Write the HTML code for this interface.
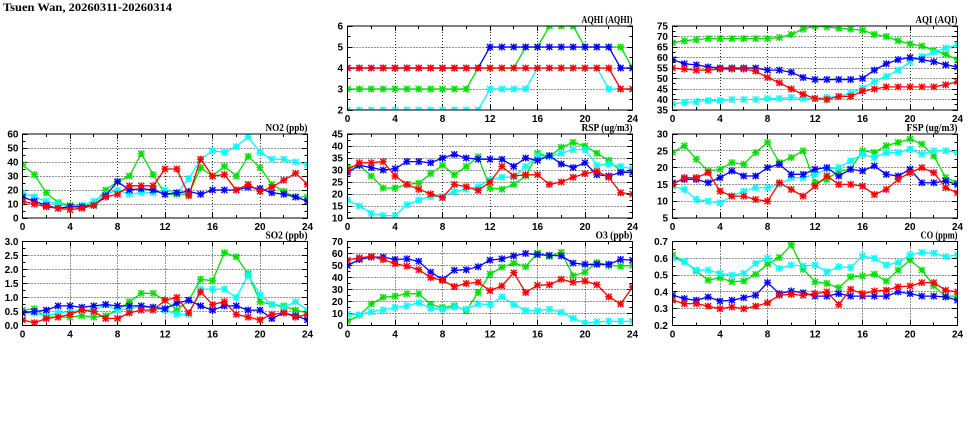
<!DOCTYPE html>
<html><head><meta charset="utf-8"><style>
html,body{margin:0;padding:0;background:#fff;}
svg{display:block;}
.t{font-family:"Liberation Sans",sans-serif;font-weight:bold;font-size:10px;fill:#000;}
.l{font-family:"Liberation Serif",serif;font-weight:bold;font-size:10px;fill:#000;}
.ttl{font-family:"Liberation Serif",serif;font-weight:bold;font-size:12px;fill:#000;}
</style></head><body>
<svg id="c" xmlns="http://www.w3.org/2000/svg" width="975" height="447" viewBox="0 0 975 447">
<rect width="975" height="447" fill="#fff"/>
<defs id="df"></defs>
<text class="ttl" x="3" y="11" textLength="169" lengthAdjust="spacingAndGlyphs">Tsuen Wan, 20260311-20260314</text>

<!-- plot labels -->
<text class="l" x="632.5" y="23" text-anchor="end" textLength="51" lengthAdjust="spacingAndGlyphs">AQHI (AQHI)</text>
<text class="l" x="957.5" y="23" text-anchor="end" textLength="42" lengthAdjust="spacingAndGlyphs">AQI (AQI)</text>
<text class="l" x="307.5" y="131" text-anchor="end" textLength="42" lengthAdjust="spacingAndGlyphs">NO2 (ppb)</text>
<text class="l" x="632.5" y="131" text-anchor="end" textLength="51" lengthAdjust="spacingAndGlyphs">RSP (ug/m3)</text>
<text class="l" x="957.5" y="131" text-anchor="end" textLength="51" lengthAdjust="spacingAndGlyphs">FSP (ug/m3)</text>
<text class="l" x="307.5" y="238.5" text-anchor="end" textLength="42" lengthAdjust="spacingAndGlyphs">SO2 (ppb)</text>
<text class="l" x="632.5" y="238.5" text-anchor="end" textLength="37" lengthAdjust="spacingAndGlyphs">O3 (ppb)</text>
<text class="l" x="957.5" y="238.5" text-anchor="end" textLength="37" lengthAdjust="spacingAndGlyphs">CO (ppm)</text>

<g class="t" text-anchor="end">
<text x="343" y="29.5">6</text><text x="343" y="50.5">5</text><text x="343" y="71.5">4</text><text x="343" y="92.5">3</text><text x="343" y="113.5">2</text>
</g>
<g class="t" text-anchor="end">
<text x="668" y="29.5">75</text><text x="668" y="40">70</text><text x="668" y="50.5">65</text><text x="668" y="61">60</text><text x="668" y="71.5">55</text><text x="668" y="82">50</text><text x="668" y="92.5">45</text><text x="668" y="103">40</text><text x="668" y="113.5">35</text>
</g>
<g class="t" text-anchor="end">
<text x="18.5" y="137.5">60</text><text x="18.5" y="151.5">50</text><text x="18.5" y="165.5">40</text><text x="18.5" y="179.5">30</text><text x="18.5" y="193.5">20</text><text x="18.5" y="207.5">10</text><text x="18.5" y="221.5">0</text>
</g>
<g class="t" text-anchor="end">
<text x="343" y="137.5">45</text><text x="343" y="149.5">40</text><text x="343" y="161.5">35</text><text x="343" y="173.5">30</text><text x="343" y="185.5">25</text><text x="343" y="197.5">20</text><text x="343" y="209.5">15</text><text x="343" y="221.5">10</text>
</g>
<g class="t" text-anchor="end">
<text x="668" y="137.5">30</text><text x="668" y="154.3">25</text><text x="668" y="171.1">20</text><text x="668" y="187.9">15</text><text x="668" y="204.7">10</text><text x="668" y="221.5">5</text>
</g>
<g class="t" text-anchor="end">
<text x="18.5" y="245">3.0</text><text x="18.5" y="259">2.5</text><text x="18.5" y="273">2.0</text><text x="18.5" y="287">1.5</text><text x="18.5" y="301">1.0</text><text x="18.5" y="315">0.5</text><text x="18.5" y="329">0.0</text>
</g>
<g class="t" text-anchor="end">
<text x="343" y="245">70</text><text x="343" y="257">60</text><text x="343" y="269">50</text><text x="343" y="281">40</text><text x="343" y="293">30</text><text x="343" y="305">20</text><text x="343" y="317">10</text><text x="343" y="329">0</text>
</g>
<g class="t" text-anchor="end">
<text x="668" y="245">0.7</text><text x="668" y="261.8">0.6</text><text x="668" y="278.6">0.5</text><text x="668" y="295.4">0.4</text><text x="668" y="312.2">0.3</text><text x="668" y="329">0.2</text>
</g>

<g class="t" text-anchor="middle">
<text x="347.5" y="122">0</text><text x="395" y="122">4</text><text x="442.5" y="122">8</text><text x="490" y="122">12</text><text x="537.5" y="122">16</text><text x="585" y="122">20</text><text x="632.5" y="122">24</text>
<text x="672.5" y="122">0</text><text x="720" y="122">4</text><text x="767.5" y="122">8</text><text x="815" y="122">12</text><text x="862.5" y="122">16</text><text x="910" y="122">20</text><text x="957.5" y="122">24</text>
</g>
<g class="t" text-anchor="middle">
<text x="22.5" y="230">0</text><text x="70" y="230">4</text><text x="117.5" y="230">8</text><text x="165" y="230">12</text><text x="212.5" y="230">16</text><text x="260" y="230">20</text><text x="307.5" y="230">24</text>
<text x="347.5" y="230">0</text><text x="395" y="230">4</text><text x="442.5" y="230">8</text><text x="490" y="230">12</text><text x="537.5" y="230">16</text><text x="585" y="230">20</text><text x="632.5" y="230">24</text>
<text x="672.5" y="230">0</text><text x="720" y="230">4</text><text x="767.5" y="230">8</text><text x="815" y="230">12</text><text x="862.5" y="230">16</text><text x="910" y="230">20</text><text x="957.5" y="230">24</text>
</g>
<g class="t" text-anchor="middle">
<text x="22.5" y="337.5">0</text><text x="70" y="337.5">4</text><text x="117.5" y="337.5">8</text><text x="165" y="337.5">12</text><text x="212.5" y="337.5">16</text><text x="260" y="337.5">20</text><text x="307.5" y="337.5">24</text>
<text x="347.5" y="337.5">0</text><text x="395" y="337.5">4</text><text x="442.5" y="337.5">8</text><text x="490" y="337.5">12</text><text x="537.5" y="337.5">16</text><text x="585" y="337.5">20</text><text x="632.5" y="337.5">24</text>
<text x="672.5" y="337.5">0</text><text x="720" y="337.5">4</text><text x="767.5" y="337.5">8</text><text x="815" y="337.5">12</text><text x="862.5" y="337.5">16</text><text x="910" y="337.5">20</text><text x="957.5" y="337.5">24</text>
</g>
<g id="plots"></g>
</svg>
<script>
(function(){
var NS="http://www.w3.org/2000/svg";
var root=document.getElementById('plots');
var defs=document.getElementById('df');
function el(n,a){var e=document.createElementNS(NS,n);for(var k in a)e.setAttribute(k,a[k]);return e;}
var W=285,H=84;
var cols=['#00e000','#00ffff','#0000ff','#ff0000'];
var P=[
{x:347.5,y:26,lo:2,hi:6,st:1,d:[
[3,3,3,3,3,3,3,3,3,3,3,4,4,4,4,5,5,6,6,6,5,5,5,5,4],
[2,2,2,2,2,2,2,2,2,2,2,2,3,3,3,3,4,4,4,4,4,4,3,3,3],
[4,4,4,4,4,4,4,4,4,4,4,4,5,5,5,5,5,5,5,5,5,5,5,4,4],
[4,4,4,4,4,4,4,4,4,4,4,4,4,4,4,4,4,4,4,4,4,4,4,3,3]]},
{x:672.5,y:26,lo:35,hi:75,st:5,d:[
[67,68,68.5,69,69,69,69,69,69,69.5,71,73.5,75,74.5,74,73.5,73,71,70,68,66.5,65.5,63.5,61.5,59],
[38,38.5,39,39.5,39.5,40,40,40,40.5,40.5,41,40.5,40.5,41,41.5,43,45.5,48.5,51,54,58,60.5,62.5,64.5,66],
[59,57,56.5,55.5,55,55,55,55,54,54,53,50.5,49.5,49.5,49.5,49.5,50,54,57,59,60,59,58,56.5,55.5],
[55,54.5,54,54,54.5,54.5,54.5,53.5,50.5,48,45,42.5,40.5,40,41.5,41.5,44,45,46,46,46,46,46,47,48.5]]},
{x:22.5,y:134,lo:0,hi:60,st:10,d:[
[38,31,18,11,9,9,10,20,26,30,46,31,17,17,17,36,30,37,30,44,36,24,19,15,15],
[18,15,12,10,8,9,12,17,20,17,18,18,20,18,28,42,48,47,51,58,47,42,42,40,38],
[15,12,9,7,8,8,9,16,26,20,21,20,17,18,19,17,20,20,20,22,21,18,17,15,12],
[12,10,8,7,6,7,9,15,17,23,23,23,35,35,16,42,30,31,20,24,19,22,27,32,24]]},
{x:347.5,y:134,lo:10,hi:45,st:5,d:[
[31,32,27.5,22.5,22.5,24,24.5,28.5,32,28,31.5,35.5,22.5,22,24,27.5,37,35.5,39.5,41.5,40,37,34,29.5,29],
[17.5,15,12,11,11,15.5,17.5,19,19,21,22,23,26,27,27,31.5,36,35.5,37,38.5,38.5,32,32.5,31.5,30.5],
[29,32,31,30,30.5,33.5,33.5,33,35,36.5,35,34.5,34.5,34.5,31.5,35,34,36,32.5,31,33,28,27.5,29,29],
[30,33,33,33.5,27.5,24,22,20,18.5,24,23,21.5,25,31.5,27.5,28,28,24,25,27,28.5,29.5,27,20.5,20]]},
{x:672.5,y:134,lo:5,hi:30,st:5,d:[
[24.5,26.5,22.5,19,19.5,21.5,21,24.5,27.5,21.5,23,25,15.5,16.5,19,19.5,25,24.5,26.5,27.5,28.5,27,23.5,17,15.5],
[14.5,13.5,10.5,10,9.5,11.5,13,14,14,15,17,17,18,19.5,20,22,24,23,24.5,24.5,25.5,24,25,25,24.5],
[15.5,16.5,16.5,15.5,17,19,17.5,17.5,20,21,18,18,19.5,20,17.5,19.5,19,20.5,18,17.5,19.5,15.5,15.5,16,15],
[15,17,17,18.5,13,11.5,11.5,10.5,10,15.5,13.5,11.5,14.5,17.5,15,15,14.5,12,13.5,16.5,18.5,20,18.5,14,12.5]]},
{x:22.5,y:241.5,lo:0,hi:3,st:0.5,d:[
[0.55,0.6,0.3,0.3,0.3,0.35,0.3,0.35,0.55,0.85,1.15,1.15,0.9,0.55,0.9,1.65,1.6,2.6,2.45,1.85,0.85,0.75,0.7,0.55,0.45],
[0.45,0.45,0.35,0.45,0.5,0.55,0.55,0.75,0.55,0.6,0.7,0.6,0.55,0.4,0.4,1.3,1.3,1.3,1.0,1.8,1.1,0.75,0.65,0.85,0.55],
[0.45,0.5,0.55,0.7,0.7,0.65,0.7,0.75,0.7,0.7,0.7,0.65,0.6,0.8,0.9,0.7,0.55,0.7,0.7,0.55,0.55,0.25,0.45,0.35,0.2],
[0.2,0.1,0.25,0.3,0.4,0.55,0.5,0.25,0.25,0.45,0.55,0.55,0.9,1.0,0.45,1.2,0.75,0.85,0.4,0.3,0.2,0.4,0.45,0.3,0.4]]},
{x:347.5,y:241.5,lo:0,hi:70,st:10,d:[
[3.5,8.5,18,23.5,24.5,26.5,26.5,17.5,15,16.5,12.5,27.5,43,48.5,52,49,60.5,57.5,61,41.5,44.5,52.5,50,49.5,50],
[9.5,9,11.5,13,15,16.5,19,14.5,13.5,15.5,13.5,18,17.5,24,17.5,12.5,12.5,13.5,11,6,2,3,3.5,3.5,3.5],
[50,55,57,57,55,55.5,53.5,44.5,38.5,46,46.5,49,54.5,55.5,58,60,59,58.5,58,52,51,51,51,55,54.5],
[54.5,56.5,57.5,55,51.5,49.5,46.5,40,37.5,32.5,35,36,29,33,44,27.5,33.5,34,38.5,36,37,34,24,18,32]]},
{x:672.5,y:241.5,lo:0.2,hi:0.7,st:0.1,d:[
[0.62,0.58,0.525,0.47,0.485,0.46,0.465,0.505,0.565,0.605,0.68,0.535,0.46,0.45,0.425,0.49,0.495,0.505,0.465,0.53,0.59,0.53,0.435,0.375,0.375],
[0.6,0.58,0.53,0.53,0.51,0.5,0.51,0.57,0.6,0.54,0.56,0.555,0.56,0.52,0.55,0.545,0.615,0.6,0.56,0.575,0.62,0.635,0.63,0.61,0.62],
[0.38,0.36,0.35,0.37,0.345,0.35,0.365,0.38,0.455,0.39,0.405,0.395,0.375,0.375,0.39,0.375,0.375,0.375,0.375,0.4,0.39,0.375,0.375,0.37,0.35],
[0.35,0.33,0.33,0.315,0.3,0.31,0.3,0.315,0.335,0.38,0.385,0.38,0.39,0.4,0.325,0.415,0.39,0.405,0.41,0.43,0.435,0.455,0.455,0.41,0.4]]}
];
function cr(v){return Math.round(v-0.5)+0.5;}
P.forEach(function(p,i){
  var X=function(t){return p.x+t*W/24;};
  var Y=function(v){return p.y+(p.hi-v)/(p.hi-p.lo)*H;};
  var cp=el('clipPath',{id:'k'+i});
  cp.appendChild(el('rect',{x:p.x,y:p.y,width:W,height:H}));
  defs.appendChild(cp);
  var g='',t,k;
  for(t=4;t<24;t+=4) g+='M'+cr(X(t))+' '+p.y+'V'+(p.y+H);
  var n=Math.round((p.hi-p.lo)/p.st);
  for(k=1;k<n;k++){var yy=cr(Y(p.lo+k*p.st));g+='M'+p.x+' '+yy+'H'+(p.x+W);}
  root.appendChild(el('path',{d:g,stroke:'#000','stroke-width':1,'stroke-dasharray':'1 2',fill:'none',opacity:0.85}));
  var tk='';
  for(t=0;t<=24;t+=2){var L=(t%4)?3:5;var xx=cr(X(t));tk+='M'+xx+' '+(p.y+H)+'v'+(-L)+'M'+xx+' '+p.y+'v'+L;}
  for(k=0;k<=2*n;k++){var L2=(k%2)?3:5;var y2=cr(Y(p.lo+k*p.st/2));tk+='M'+p.x+' '+y2+'h'+L2+'M'+(p.x+W)+' '+y2+'h'+(-L2);}
  root.appendChild(el('path',{d:tk,stroke:'#000','stroke-width':1,fill:'none'}));
  var gg=el('g',{'clip-path':'url(#k'+i+')'});
  p.d.forEach(function(arr,j){
    var pts=[],mk='';
    arr.forEach(function(v,t){
      var x=X(t),y=Y(v);
      pts.push(x.toFixed(2)+','+y.toFixed(2));
      mk+='M'+(x-3.5)+' '+y+'h7M'+x+' '+(y-3.5)+'v7M'+(x-3)+' '+(y-3)+'l6 6M'+(x-3)+' '+(y+3)+'l6 -6';
    });
    gg.appendChild(el('polyline',{points:pts.join(' '),fill:'none',stroke:cols[j],'stroke-width':1.3}));
    gg.appendChild(el('path',{d:mk,fill:'none',stroke:cols[j],'stroke-width':1.4}));
  });
  root.appendChild(gg);
  root.appendChild(el('rect',{x:p.x,y:p.y,width:W,height:H,fill:'none',stroke:'#000','stroke-width':1}));
});
})();
</script>
</body></html>
